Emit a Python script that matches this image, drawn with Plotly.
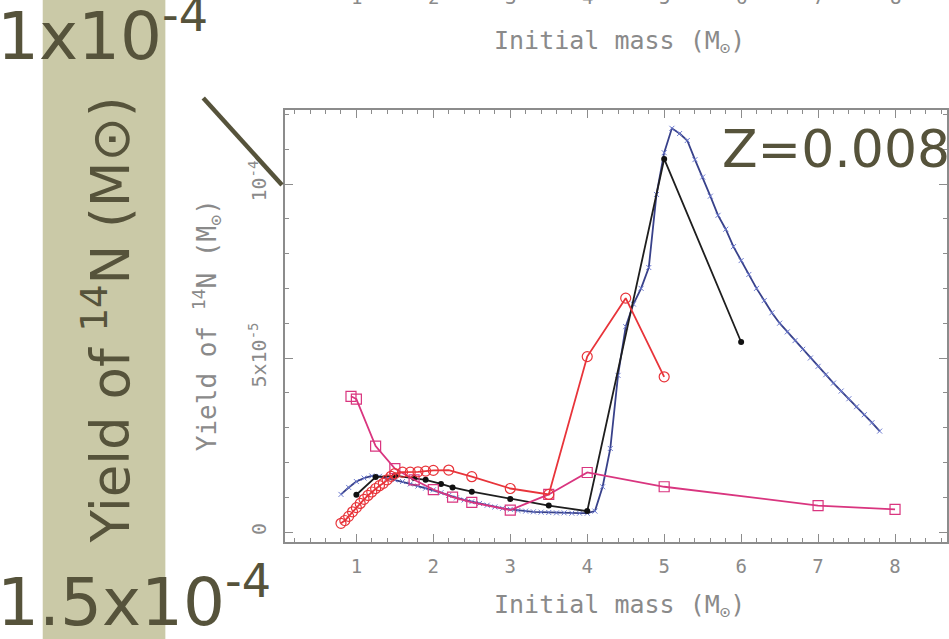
import plotly.graph_objects as go

# ---------------- data ----------------
blue_mass = [0.8, 0.9, 1.0, 1.1, 1.2, 1.3, 1.4, 1.5, 1.6, 1.7, 1.8, 1.9, 2.0,
             2.1, 2.2, 2.3, 2.4, 2.5, 2.6, 2.7, 2.8, 2.9, 3.0, 3.1, 3.2, 3.3,
             3.4, 3.5, 3.6, 3.7, 3.8, 3.9, 4.0, 4.1, 4.2, 4.3, 4.4, 4.5, 4.6,
             4.7, 4.8, 4.9, 5.0, 5.1, 5.2, 5.3, 5.4, 5.5, 5.6, 5.7, 5.8, 5.9,
             6.0, 6.1, 6.2, 6.3, 6.4, 6.5, 6.6, 6.7, 6.8, 6.9, 7.0, 7.1, 7.2,
             7.3, 7.4, 7.5, 7.6, 7.7, 7.8]
blue_yield_e5 = [1.08, 1.28, 1.45, 1.55, 1.61, 1.60, 1.55, 1.50, 1.45, 1.38,
                 1.32, 1.26, 1.21, 1.13, 1.05, 0.98, 0.92, 0.87, 0.82, 0.77,
                 0.72, 0.68, 0.65, 0.62, 0.60, 0.58, 0.57, 0.56, 0.55, 0.55,
                 0.54, 0.54, 0.54, 0.60, 1.30, 2.40, 4.50, 5.90, 6.55, 7.00,
                 7.60, 9.70, 10.9, 11.6, 11.45, 11.25, 10.7, 10.2, 9.65, 9.10,
                 8.70, 8.20, 7.80, 7.40, 7.00, 6.65, 6.30, 6.00, 5.75, 5.50,
                 5.25, 5.00, 4.76, 4.52, 4.28, 4.05, 3.83, 3.60, 3.37, 3.14,
                 2.90]

black_mass = [1.0, 1.25, 1.5, 1.75, 1.9, 2.1, 2.25, 2.5, 3.0, 3.5, 4.0, 5.0, 6.0]
black_yield_e5 = [1.07, 1.58, 1.62, 1.55, 1.50, 1.38, 1.28, 1.16, 0.95, 0.76,
                  0.60, 10.72, 5.46]

red_mass = [0.8, 0.85, 0.9, 0.95, 1.0, 1.05, 1.1, 1.15, 1.2, 1.25, 1.3, 1.35,
            1.4, 1.45, 1.5, 1.6, 1.7, 1.8, 1.9, 2.0, 2.2, 2.5, 3.0, 3.5, 4.0,
            4.5, 5.0]
red_yield_e5 = [0.25, 0.33, 0.45, 0.58, 0.70, 0.82, 0.94, 1.05, 1.15, 1.25,
                1.33, 1.40, 1.50, 1.60, 1.68, 1.72, 1.72, 1.73, 1.75, 1.77,
                1.78, 1.59, 1.25, 1.08, 5.04, 6.72, 4.46]

pink_mass = [0.93, 1.0, 1.25, 1.5, 1.75, 2.0, 2.25, 2.5, 3.0, 3.5, 4.0, 5.0, 7.0, 8.0]
pink_yield_e5 = [3.90, 3.82, 2.47, 1.82, 1.50, 1.22, 1.00, 0.85, 0.63, 1.08,
                 1.71, 1.30, 0.76, 0.65]

x_ticks = [1, 2, 3, 4, 5, 6, 7, 8]
y_tickvals = [0, 5e-5, 1e-4]
y_ticktext = ["0", "5x10<sup>-5</sup>", "10<sup>-4</sup>"]

def scale(v):
    return [a * 1e-5 for a in v]

# ---------------- geometry helpers (window pixel coords) ----------------
W, H = 949, 639
PL, PR, PT, PB = 285, 949, 110, 542

def fx(px):
    return (px - PL) / (PR - PL)

def fy(py):
    return (PB - py) / (PB - PT)

OLIVE = "#56533b"
GREY = "#8a8a8a"
CHART_FONT = "DejaVu Sans Mono"
SLIDE_FONT = "DejaVu Sans"

fig = go.Figure()

fig.add_trace(go.Scatter(
    x=blue_mass, y=scale(blue_yield_e5), mode="lines+markers",
    line=dict(color="#38418a", width=1.8),
    marker=dict(symbol="x-thin", size=5, line=dict(width=1, color="#6d7bd0")),
    showlegend=False))
fig.add_trace(go.Scatter(
    x=black_mass, y=scale(black_yield_e5), mode="lines+markers",
    line=dict(color="#1e1e1e", width=1.8),
    marker=dict(symbol="circle", size=6, color="#111111"),
    showlegend=False))
fig.add_trace(go.Scatter(
    x=pink_mass, y=scale(pink_yield_e5), mode="lines+markers",
    line=dict(color="#d9357f", width=1.8),
    marker=dict(symbol="square-open", size=10, line=dict(width=1.2, color="#e868a4")),
    showlegend=False))
fig.add_trace(go.Scatter(
    x=red_mass, y=scale(red_yield_e5), mode="lines+markers",
    line=dict(color="#e8343a", width=1.8),
    marker=dict(symbol="circle-open", size=10, line=dict(width=1.2, color="#f05a5a")),
    showlegend=False))

x_lo = 1 + (PL - 356.7) / 77.3
x_hi = 1 + (PR + 1 - 356.7) / 77.3
y_lo = (532 - PB) / 348 * 1e-4
y_hi = (532 - PT) / 348 * 1e-4

fig.update_layout(
    width=W, height=H,
    margin=dict(l=PL, r=W - PR, t=PT, b=H - PB, pad=0),
    paper_bgcolor="white", plot_bgcolor="white",
    xaxis=dict(range=[x_lo, x_hi], tickvals=x_ticks, ticks="inside", ticklen=8,
               tickwidth=1.3, tickcolor="#8c8c8c", showline=True, linecolor="#8c8c8c",
               linewidth=1.5, mirror="ticks", showgrid=False, zeroline=False,
               tickfont=dict(family=CHART_FONT, size=19, color=GREY),
               ticklabelstandoff=6,
               minor=dict(dtick=0.2, tick0=0, ticks="inside", ticklen=4,
                          tickcolor="#8c8c8c", tickwidth=1.1, showgrid=False)),
    yaxis=dict(range=[y_lo, y_hi], tickvals=y_tickvals, ticktext=y_ticktext,
               ticks="inside", ticklen=8, tickwidth=1.3, tickcolor="#8c8c8c",
               showline=True, linecolor="#8c8c8c", linewidth=1.5, mirror="ticks",
               showgrid=False, zeroline=False, tickangle=-90,
               tickfont=dict(family=CHART_FONT, size=20, color=GREY),
               ticklabelstandoff=9,
               minor=dict(dtick=1e-5, tick0=0, ticks="inside", ticklen=4,
                          tickcolor="#8c8c8c", tickwidth=1.1, showgrid=False)),
)

shapes = [
    dict(type="rect", xref="paper", yref="paper", x0=fx(42), x1=fx(165),
         y0=fy(H + 12), y1=fy(-12), fillcolor="#cac9a7", line=dict(width=0), layer="below"),
    dict(type="line", xref="paper", yref="paper", x0=fx(203), y0=fy(98),
         x1=fx(282), y1=fy(185), line=dict(color=OLIVE, width=4.5)),
]
fig.update_layout(shapes=shapes)

ann = []
# chart texts
ann.append(dict(text="Yield of <sup>14</sup>N (M<sub>⊙</sub>)", textangle=-90,
                x=fx(206), y=fy(325), xref="paper", yref="paper",
                xanchor="center", yanchor="middle", showarrow=False,
                font=dict(family=CHART_FONT, size=26, color=GREY)))
ann.append(dict(text="Initial mass (M<sub>⊙</sub>)", x=fx(621), y=fy(606),
                xref="paper", yref="paper", xanchor="center", yanchor="middle",
                showarrow=False, font=dict(family=CHART_FONT, size=25, color=GREY)))
# upper (cut-off) panel texts
ann.append(dict(text="Initial mass (M<sub>⊙</sub>)", x=fx(621), y=fy(42),
                xref="paper", yref="paper", xanchor="center", yanchor="middle",
                showarrow=False, font=dict(family=CHART_FONT, size=25, color=GREY)))
for t in x_ticks:
    ann.append(dict(text=str(t), x=t, xref="x", y=fy(-3), yref="paper",
                    xanchor="center", yanchor="middle", showarrow=False,
                    font=dict(family=CHART_FONT, size=19, color=GREY)))
# slide texts
ann.append(dict(text="1x10<sup>-4</sup>", x=fx(-6), y=fy(32), xref="paper", yref="paper",
                xanchor="left", yanchor="middle", showarrow=False,
                font=dict(family=SLIDE_FONT, size=66, color=OLIVE)))
ann.append(dict(text="1.5x10<sup>-4</sup>", x=fx(-6), y=fy(597), xref="paper", yref="paper",
                xanchor="left", yanchor="middle", showarrow=False,
                font=dict(family=SLIDE_FONT, size=66, color=OLIVE)))
ann.append(dict(text="Z=0.008", x=fx(721), y=fy(149), xref="paper", yref="paper",
                xanchor="left", yanchor="middle", showarrow=False,
                font=dict(family=SLIDE_FONT, size=52, color=OLIVE)))
ann.append(dict(text="Yield of <sup>14</sup>N (M⊙)", textangle=-90,
                x=fx(106), y=fy(320), xref="paper", yref="paper",
                xanchor="center", yanchor="middle", showarrow=False,
                font=dict(family=SLIDE_FONT, size=53, color=OLIVE)))
fig.update_layout(annotations=ann)

# the slide is edge-to-edge: drop the page's default body margin
fig.write_html("out.html", config={"displayModeBar": False},
               post_script="document.body.style.margin='0';")
